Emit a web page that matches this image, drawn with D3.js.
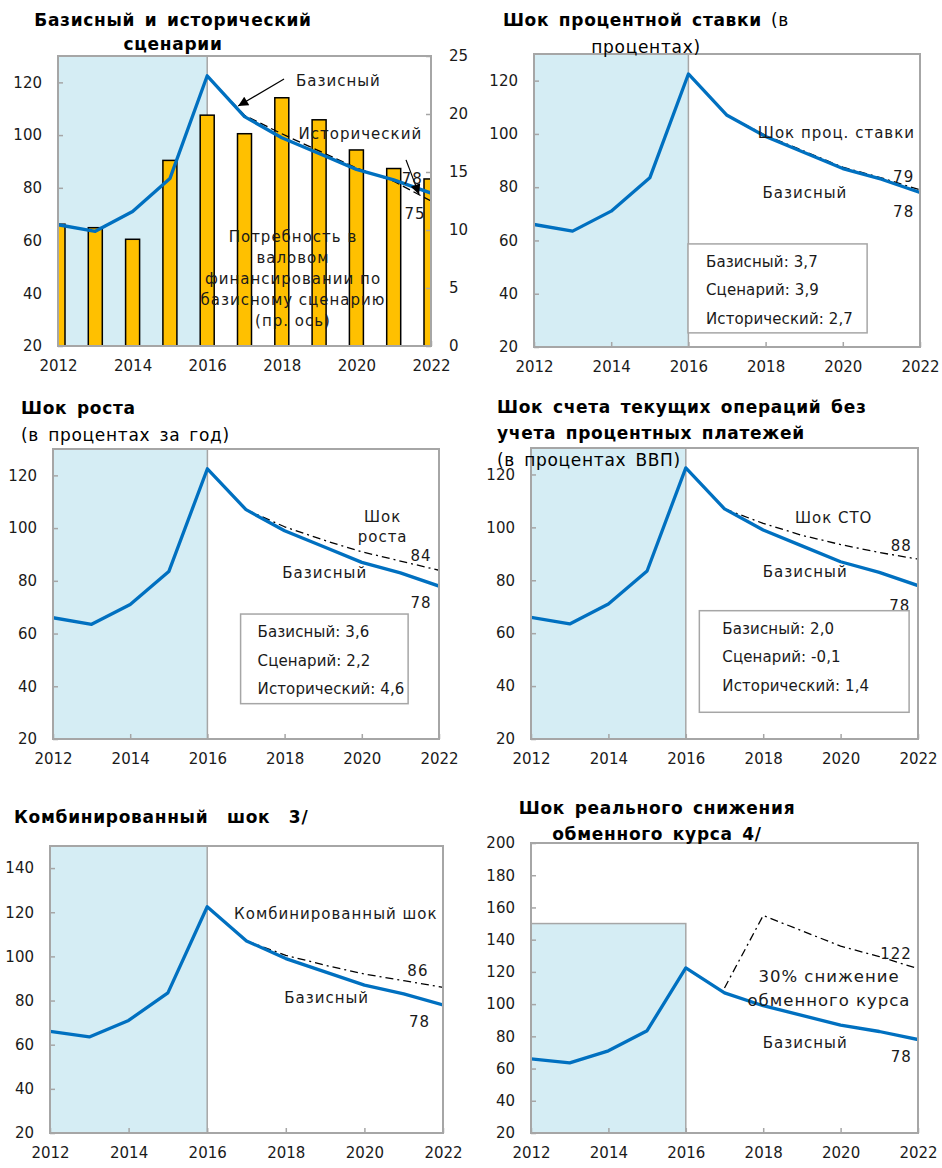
<!DOCTYPE html>
<html>
<head>
<meta charset="utf-8">
<script src="https://cdn.jsdelivr.net/npm/d3@7"></script>
<style>
body { margin: 0; background: #fff; }
text { font-family: "DejaVu Sans", sans-serif; fill: #1a1a1a; }
.ttl { font-weight: bold; font-size: 17px; fill: #000; letter-spacing: 0.7px; word-spacing: 3px; }
.sub { font-size: 17px; fill: #000; letter-spacing: 0.7px; word-spacing: 3px; }
.lbl { font-size: 15px; letter-spacing: 1px; }
.big { font-size: 16.5px; letter-spacing: 1px; }
.boxt { font-size: 15px; letter-spacing: 0.1px; }
.tick text { font-size: 15px; fill: #1a1a1a; }
</style>
</head>
<body>
<svg id="chart" width="942" height="1168"></svg>
<script>
// data
var years = [2012, 2013, 2014, 2015, 2016, 2017, 2018, 2019, 2020, 2021, 2022];
var xTicks = [2012, 2014, 2016, 2018, 2020, 2022];
var baseline = [66, 63.5, 71, 83.5, 122.5, 107, 99, 93, 87, 83, 78];
var historical = [null, null, null, null, 122.5, 107.5, 100.5, 94, 87.5, 82.5, 75];
var grossFinancing = [10.5, 10.2, 9.2, 16.0, 19.9, 18.3, 21.4, 19.5, 16.9, 15.3, 14.4];
var rateShock = [null, null, null, null, null, 107, 99.5, 93.5, 87.5, 83.5, 79];
var growthShock = [null, null, null, null, null, 107, 100.5, 95.5, 91, 87.5, 84];
var ctoShock = [null, null, null, null, null, 107, 101.5, 97, 93.5, 90.5, 88];
var combinedShock = [null, null, null, null, null, 107, 100.5, 96, 92, 89, 86];
var fxShock = [null, null, null, null, null, 110, 155, 145.5, 136, 129.5, 122];
var rateBox = ["Базисный: 3,7", "Сценарий: 3,9", "Исторический: 2,7"];
var growthBox = ["Базисный: 3,6", "Сценарий: 2,2", "Исторический: 4,6"];
var ctoBox = ["Базисный: 2,0", "Сценарий: -0,1", "Исторический: 1,4"];

var blue = "#0070c0", grid = "#a6a6a6", shade = "#d5edf4";
var svg = d3.select("#chart");

svg.append("defs").append("marker")
  .attr("id", "arr")
  .attr("viewBox", "0 0 10 10")
  .attr("refX", 10).attr("refY", 5)
  .attr("markerWidth", 13).attr("markerHeight", 10)
  .attr("markerUnits", "userSpaceOnUse")
  .attr("orient", "auto")
  .append("path").attr("d", "M0,0 L10,5 L0,10 z").attr("fill", "#000");

var clipN = 0;
function panel(p) {
  var x = d3.scaleLinear().domain([2012, 2022]).range([p.left, p.right]);
  var y = d3.scaleLinear().domain(p.yDomain).range([p.bottom, p.top]);
  var g = svg.append("g");
  var id = "clip" + (clipN++);
  g.append("clipPath").attr("id", id).append("rect")
    .attr("x", p.left).attr("y", p.top)
    .attr("width", p.right - p.left).attr("height", p.bottom - p.top);

  var sTop = p.shadeTop || p.yDomain[1];
  g.append("rect")
    .attr("x", x(2012)).attr("y", y(sTop))
    .attr("width", x(2016) - x(2012)).attr("height", y(p.yDomain[0]) - y(sTop))
    .attr("fill", shade).attr("stroke", grid).attr("stroke-width", 1.5);

  // x axis
  g.append("g")
    .attr("transform", "translate(0," + p.bottom + ")")
    .call(d3.axisBottom(x).tickValues(xTicks).tickFormat(d3.format("d"))
      .tickSizeInner(-5).tickSizeOuter(0).tickPadding(14))
    .call(a => a.select(".domain").remove())
    .call(a => a.selectAll(".tick line").attr("stroke", grid).attr("stroke-width", 1.5));

  // y axis
  g.append("g")
    .attr("transform", "translate(" + p.left + ",0)")
    .call(d3.axisLeft(y).tickValues(p.yTicks)
      .tickSizeInner(-5).tickSizeOuter(0).tickPadding(16))
    .call(a => a.select(".domain").remove())
    .call(a => a.selectAll(".tick line").attr("stroke", grid).attr("stroke-width", 1.5));

  var plot = g.append("g").attr("clip-path", "url(#" + id + ")");
  g.append("rect")
    .attr("x", p.left).attr("y", p.top)
    .attr("width", p.right - p.left).attr("height", p.bottom - p.top)
    .attr("fill", "none").attr("stroke", grid).attr("stroke-width", 2);
  return { g: g, plot: plot, x: x, y: y };
}

function lineOf(P, series, dash, color, width) {
  var line = d3.line()
    .defined(d => d != null)
    .x((d, i) => P.x(years[i]))
    .y(d => P.y(d));
  P.plot.append("path")
    .datum(series)
    .attr("d", line)
    .attr("fill", "none")
    .attr("stroke", color)
    .attr("stroke-width", width)
    .attr("stroke-linejoin", "round")
    .attr("stroke-dasharray", dash);
}

function label(P, txt, yr, v, anchor, cls) {
  P.g.append("text").attr("class", cls || "lbl")
    .attr("x", P.x(yr)).attr("y", P.y(v))
    .attr("text-anchor", anchor || "start")
    .text(txt);
}

function box(P, lines, x0, x1, v0, v1, pad) {
  P.g.append("rect")
    .attr("x", P.x(x0)).attr("y", P.y(v0))
    .attr("width", P.x(x1) - P.x(x0)).attr("height", P.y(v1) - P.y(v0))
    .attr("fill", "#fff").attr("stroke", grid).attr("stroke-width", 1.5);
  lines.forEach(function (t, i) {
    P.g.append("text").attr("class", "boxt")
      .attr("x", P.x(x0) + pad).attr("y", P.y(v0) + 23 + i * 28.5)
      .text(t);
  });
}

function title(lines) {
  lines.forEach(function (l) {
    var t = svg.append("text").attr("x", l[0]).attr("y", l[1])
      .attr("text-anchor", l[2] || "start");
    l[3].forEach(function (s) {
      var ts = t.append("tspan").attr("class", s[1] ? "ttl" : "sub").text(s[0]);
      if (s[2]) ts.style("word-spacing", s[2] + "px");
    });
  });
}

var tick130 = [20, 40, 60, 80, 100, 120];

// ---- 1. Базисный и исторический сценарии
var P1 = panel({ left: 58, right: 431, top: 56, bottom: 346, yDomain: [20, 130], yTicks: tick130 });
var y2 = d3.scaleLinear().domain([0, 25]).range([346, 56]);
P1.g.append("g")
  .attr("transform", "translate(431,0)")
  .call(d3.axisRight(y2).tickValues([0, 5, 10, 15, 20, 25])
    .tickSizeInner(-5).tickSizeOuter(0).tickPadding(18))
  .call(a => a.select(".domain").remove())
  .call(a => a.selectAll(".tick line").attr("stroke", grid).attr("stroke-width", 1.5));
var bw = 14;
P1.plot.selectAll("rect.bar")
  .data(grossFinancing)
  .join("rect")
  .attr("class", "bar")
  .attr("x", (d, i) => P1.x(years[i]) - bw / 2)
  .attr("y", d => y2(d))
  .attr("width", bw)
  .attr("height", d => y2(0) - y2(d))
  .attr("fill", "#ffc000")
  .attr("stroke", "#000")
  .attr("stroke-width", 1.5);
lineOf(P1, historical, "8,4", "#000", 1.3);
lineOf(P1, baseline, null, blue, 3.3);
label(P1, "Базисный", 2018.38, 118.5);
P1.g.append("line")
  .attr("x1", P1.x(2018.06)).attr("y1", P1.y(121.3))
  .attr("x2", P1.x(2016.83)).attr("y2", P1.y(111))
  .attr("stroke", "#000").attr("stroke-width", 1.2).attr("marker-end", "url(#arr)");
label(P1, "Исторический", 2018.45, 98.5);
P1.g.append("line")
  .attr("x1", P1.x(2021.33)).attr("y1", P1.y(90.6))
  .attr("x2", P1.x(2021.68)).attr("y2", P1.y(77.5))
  .attr("stroke", "#000").attr("stroke-width", 1.2).attr("marker-end", "url(#arr)");
label(P1, "78", 2021.5, 81.5, "middle");
label(P1, "75", 2021.57, 68, "middle");
["Потребность в", "валовом", "финансировании по", "базисному сценарию", "(пр. ось)"]
  .forEach(function (t, i) {
    P1.g.append("text").attr("class", "lbl")
      .attr("x", P1.x(2018.3)).attr("y", P1.y(59.5) + i * 21)
      .attr("text-anchor", "middle").text(t);
  });
title([[173, 26, "middle", [["Базисный и исторический", 1]]],
       [173, 50, "middle", [["сценарии", 1]]]]);

// ---- 2. Шок процентной ставки
var P2 = panel({ left: 534, right: 920, top: 54, bottom: 347, yDomain: [20, 130], yTicks: tick130 });
lineOf(P2, rateShock, "8,4,2,4", "#000", 1.3);
lineOf(P2, baseline, null, blue, 3.3);
label(P2, "Шок проц. ставки", 2021.87, 98.6, "end");
label(P2, "79", 2021.85, 82, "end");
label(P2, "Базисный", 2017.92, 75.8);
label(P2, "78", 2021.85, 68.7, "end");
box(P2, rateBox, 2015.99, 2020.63, 58.7, 25.3, 18);
title([[646, 26, "middle", [["Шок процентной ставки", 1], [" (в", 0]]],
       [646, 53, "middle", [["процентах)", 0]]]]);

// ---- 3. Шок роста
var P3 = panel({ left: 53, right: 439, top: 449, bottom: 739, yDomain: [20, 130], yTicks: tick130 });
lineOf(P3, growthShock, "8,4,2,4", "#000", 1.3);
lineOf(P3, baseline, null, blue, 3.3);
label(P3, "Шок", 2020.54, 102.2, "middle");
label(P3, "роста", 2020.54, 94.6, "middle");
label(P3, "84", 2021.81, 87.4, "end");
label(P3, "Базисный", 2017.94, 81);
label(P3, "78", 2021.81, 69.7, "end");
box(P3, growthBox, 2016.86, 2021.2, 67.4, 33.4, 17);
title([[21, 414, "start", [["Шок роста", 1]]],
       [21, 441, "start", [["(в процентах за год)", 0]]]]);

// ---- 4. Шок СТО
var P4 = panel({ left: 531, right: 918, top: 448, bottom: 739, yDomain: [20, 130], yTicks: tick130 });
lineOf(P4, ctoShock, "8,4,2,4", "#000", 1.3);
lineOf(P4, baseline, null, blue, 3.3);
label(P4, "Шок СТО", 2018.82, 101.6);
label(P4, "88", 2021.84, 90.9, "end");
label(P4, "Базисный", 2017.99, 81.1);
label(P4, "78", 2021.8, 68.5, "end");
box(P4, ctoBox, 2016.35, 2021.77, 68.5, 30.1, 23);
title([[497, 413, "start", [["Шок счета текущих операций без", 1]]],
       [497, 439, "start", [["учета процентных платежей", 1]]],
       [497, 466, "start", [["(в процентах ВВП)", 0]]]]);

// ---- 5. Комбинированный шок
var P5 = panel({ left: 50, right: 443, top: 846, bottom: 1133, yDomain: [20, 150],
  yTicks: [20, 40, 60, 80, 100, 120, 140] });
lineOf(P5, combinedShock, "8,4,2,4", "#000", 1.3);
lineOf(P5, baseline, null, blue, 3.3);
label(P5, "Комбинированный шок", 2021.86, 116.9, "end");
label(P5, "86", 2021.63, 90.9, "end");
label(P5, "Базисный", 2017.96, 78.9);
label(P5, "78", 2021.67, 67.8, "end");
title([[14, 823, "start", [["Комбинированный", 1], [" шок 3/", 1, 12]]]]);

// ---- 6. Шок реального снижения обменного курса
var P6 = panel({ left: 531, right: 918, top: 843, bottom: 1133, yDomain: [20, 200],
  yTicks: [20, 40, 60, 80, 100, 120, 140, 160, 180, 200], shadeTop: 150 });
lineOf(P6, fxShock, "8,4,2,4", "#000", 1.3);
lineOf(P6, baseline, null, blue, 3.3);
label(P6, "122", 2021.84, 128.2, "end");
label(P6, "30% снижение", 2019.7, 113.7, "middle", "big");
label(P6, "обменного курса", 2019.7, 98.6, "middle", "big");
label(P6, "Базисный", 2017.99, 72.8);
label(P6, "78", 2021.84, 63.8, "end");
title([[657, 814, "middle", [["Шок реального снижения", 1]]],
       [657, 840, "middle", [["обменного курса 4/", 1]]]]);
</script>
</body>
</html>
